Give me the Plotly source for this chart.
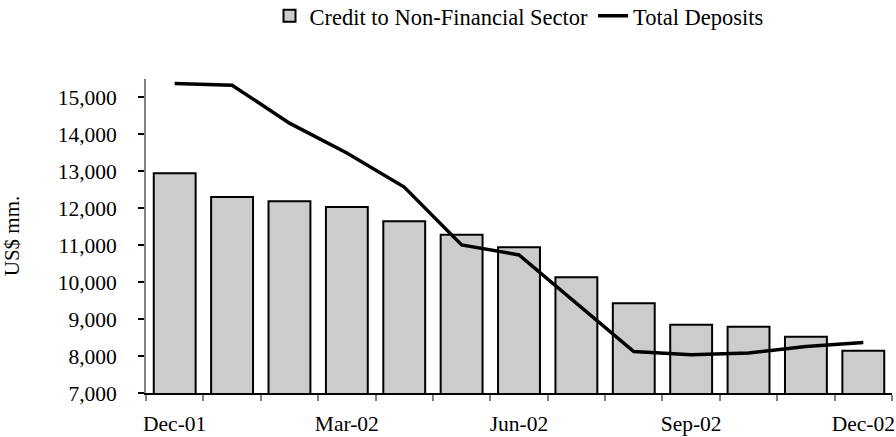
import plotly.graph_objects as go

months = ["Dec-01", "Jan-02", "Feb-02", "Mar-02", "Apr-02", "May-02", "Jun-02",
          "Jul-02", "Aug-02", "Sep-02", "Oct-02", "Nov-02", "Dec-02"]
credit = [12950, 12305, 12190, 12035, 11650, 11286, 10946,
          10135, 9432, 8846, 8792, 8522, 8143]
deposits = [15380, 15332, 14305, 13495, 12576, 11008, 10738,
            9422, 8124, 8035, 8081, 8259, 8368]
label_idx = [0, 3, 6, 9, 12]
y_ticks = [7000, 8000, 9000, 10000, 11000, 12000, 13000, 14000, 15000]

x = list(range(len(months)))
bounds = [i - 0.5 for i in range(len(months) + 1)]
FONT = "Liberation Serif"

fig = go.Figure()
fig.add_trace(go.Bar(
    x=x, y=credit, name="Credit to Non-Financial Sector",
    marker=dict(color="#cccccc", line=dict(color="black", width=2)),
))
fig.add_trace(go.Scatter(
    x=x, y=deposits, name="Total Deposits", mode="lines",
    line=dict(color="black", width=3.5),
))

xr = [-0.5, len(months) - 0.5]
yr = [7000, 15500]

fig.update_layout(
    width=896, height=437,
    margin=dict(l=146, r=4, t=79, b=44, autoexpand=False),
    paper_bgcolor="white", plot_bgcolor="white",
    font=dict(family=FONT, size=21.5, color="black"),
    bargap=0.27,
    showlegend=True,
    legend=dict(orientation="h", x=0.5, xanchor="center",
                y=1.2, yanchor="middle",
                font=dict(size=22.5), bgcolor="rgba(0,0,0,0)"),
    xaxis=dict(
        range=xr, tickmode="array",
        tickvals=[x[i] for i in label_idx],
        ticktext=[months[i] for i in label_idx],
        ticks="", showgrid=False, zeroline=False, automargin=False,
        showline=True, linecolor="black", linewidth=1.5,
        ticklabelstandoff=10,
        minor=dict(tickmode="array", tickvals=bounds, ticks="outside",
                   ticklen=6, tickwidth=1.5, tickcolor="#808080", showgrid=False),
    ),
    xaxis2=dict(
        range=xr, overlaying="x", anchor="y", side="bottom", automargin=False,
        tickmode="array", tickvals=bounds, ticks="inside", ticklen=6,
        tickwidth=1.5, tickcolor="#808080",
        showticklabels=False, showline=False, showgrid=False, zeroline=False,
    ),
    yaxis=dict(
        range=yr, tickmode="array", tickvals=y_ticks, tickformat=",",
        ticks="outside", ticklen=6, tickwidth=1.5, tickcolor="black",
        showgrid=False, zeroline=False, automargin=False,
        showline=True, linecolor="#808080", linewidth=1.7,
        ticklabelstandoff=17,
        title=dict(text="US$ mm.", font=dict(size=21), standoff=32),
    ),
    yaxis2=dict(
        range=yr, overlaying="y", anchor="x", side="left", automargin=False,
        tickmode="array", tickvals=y_ticks, ticks="inside", ticklen=6,
        tickwidth=1.5, tickcolor="black",
        showticklabels=False, showline=False, showgrid=False, zeroline=False,
    ),
)

fig.write_html("out.html",
               config={"displayModeBar": False},
               post_script="document.body.style.margin='0';"
                           "document.body.style.overflow='hidden';")
